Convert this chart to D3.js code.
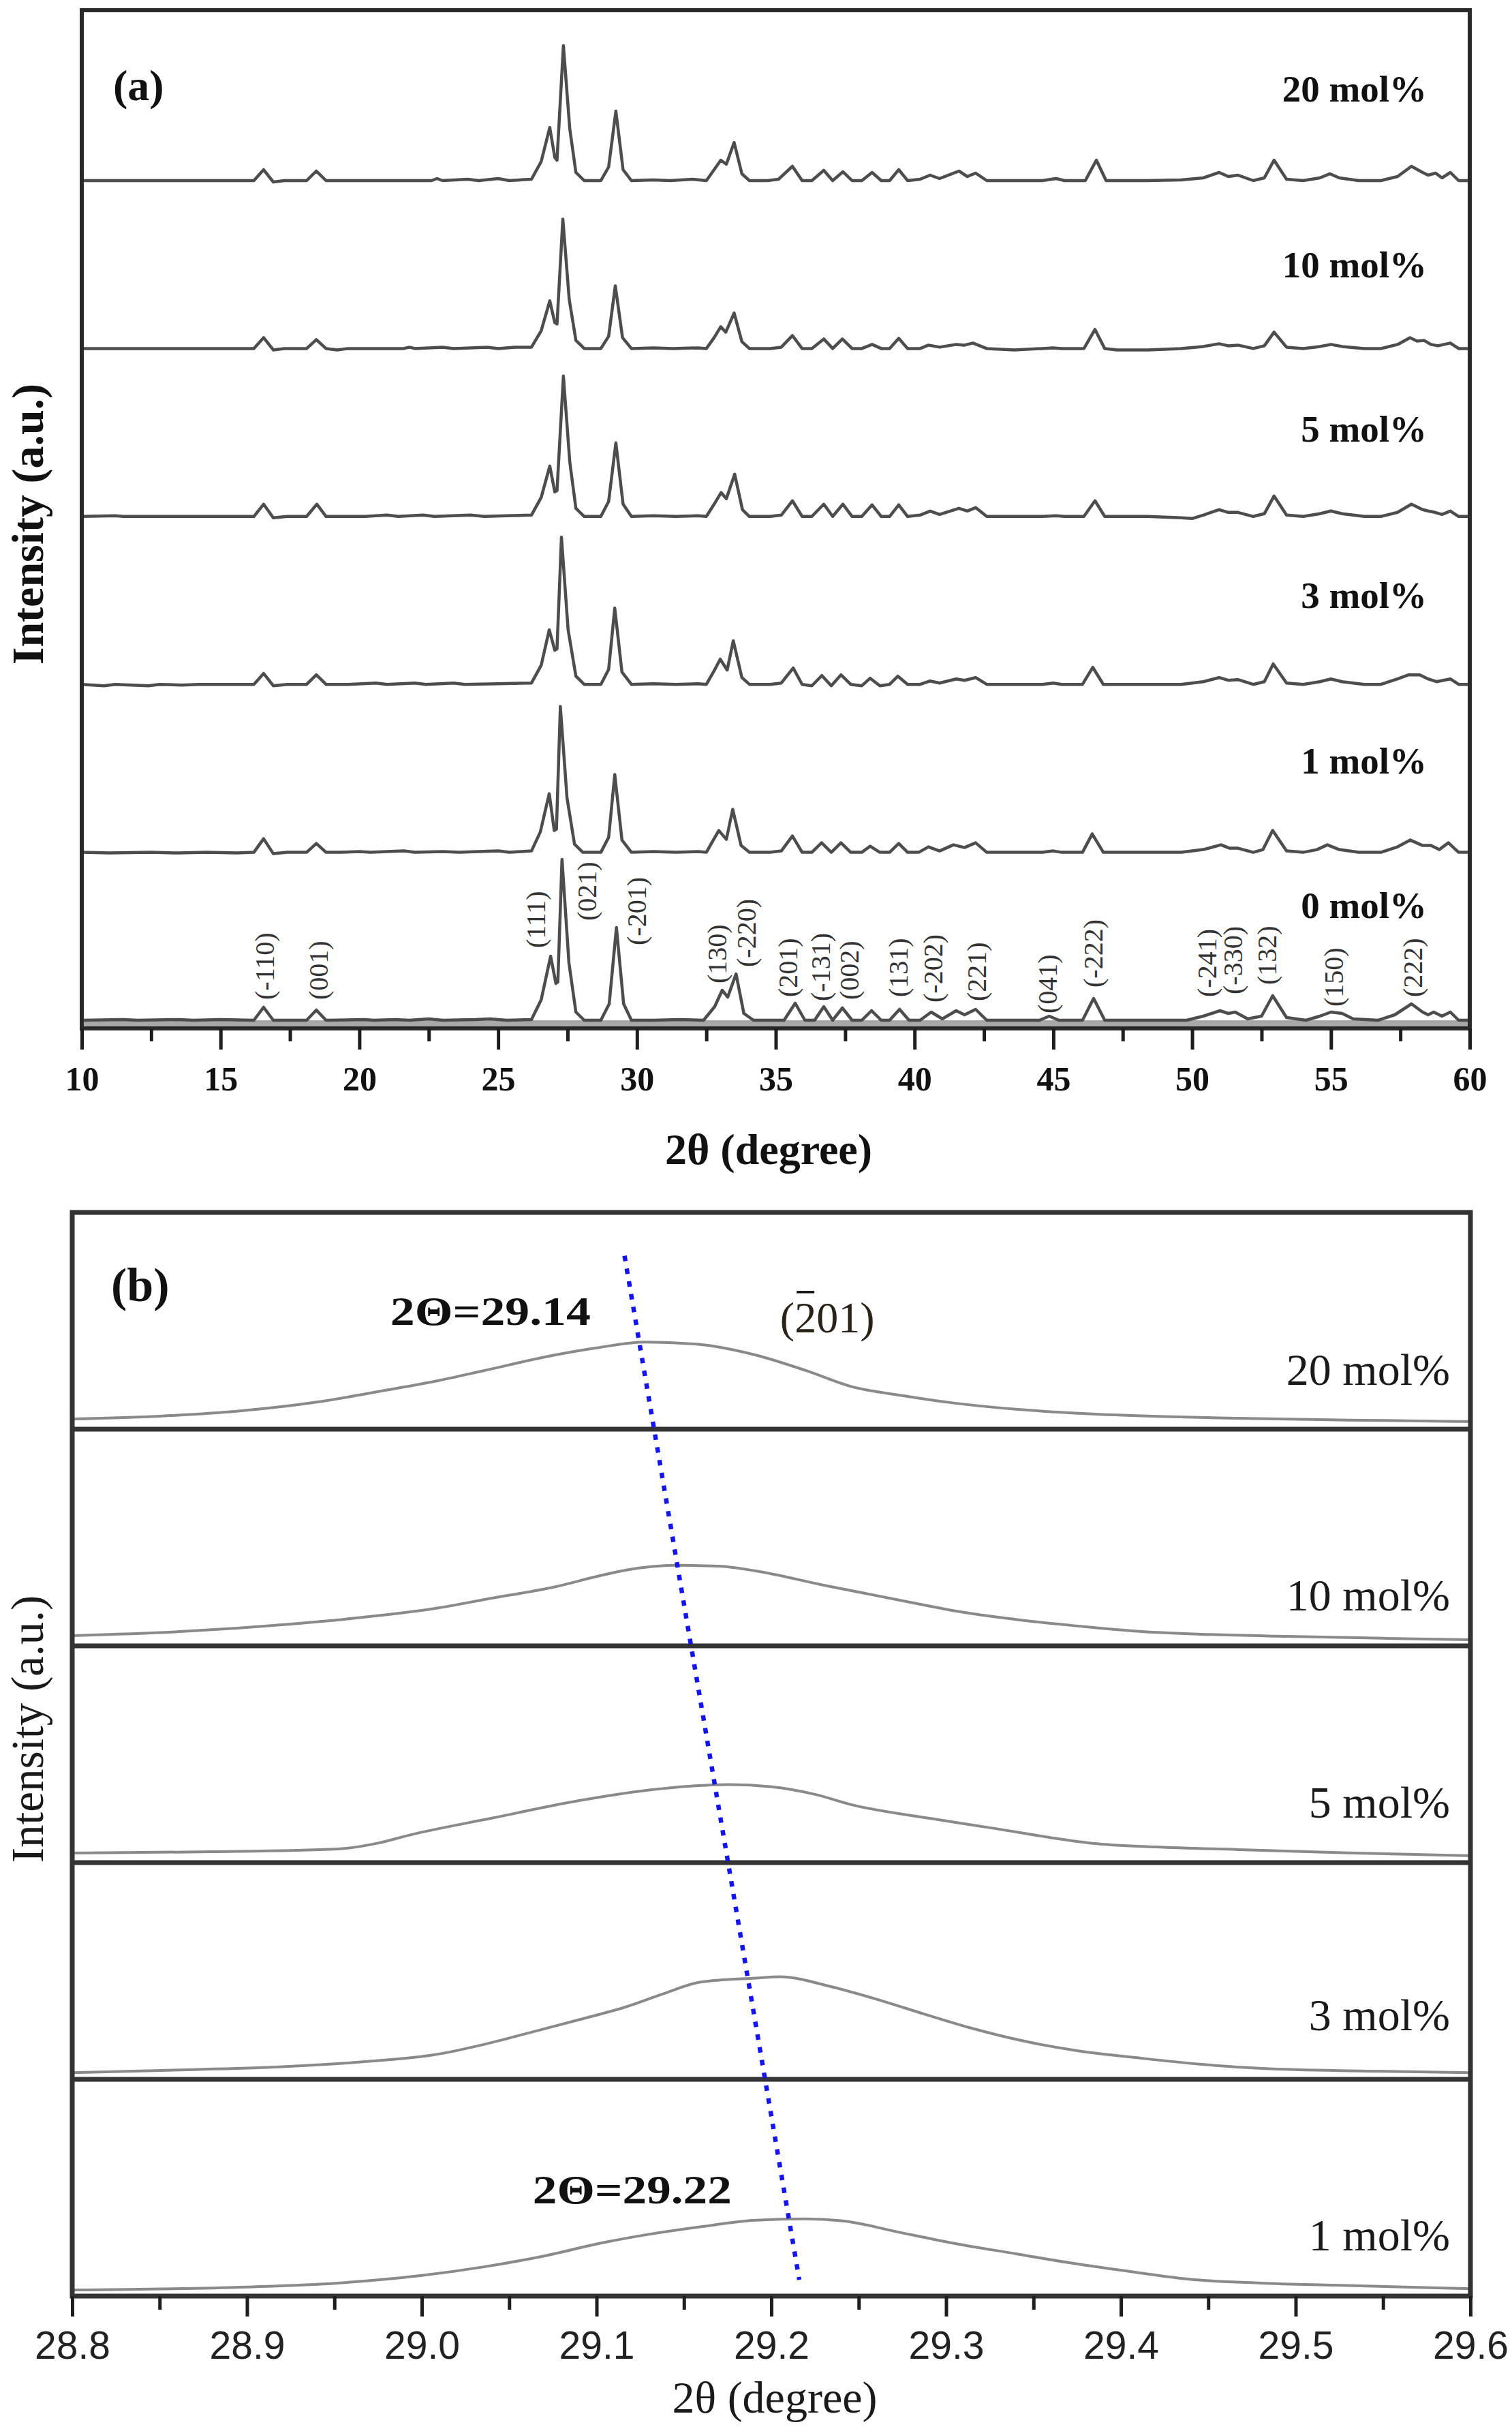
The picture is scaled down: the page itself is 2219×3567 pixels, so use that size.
<!DOCTYPE html>
<html>
<head>
<meta charset="utf-8">
<script src="https://cdn.jsdelivr.net/npm/d3@7"></script>
<style>
  body { margin: 0; background: #fff; }
</style>
</head>
<body>
<div id="chart"></div>
<script>
// ---- panel (a): full XRD patterns, [2θ (deg), intensity (a.u.)] ----
const xrd0 = [[10,0],[11.5,0.5],[12,0],[13.5,0.5],[14,0],[15,0.5],[16.2,0],[16.55,9.5],[16.9,0],[18.1,0],[18.45,7.5],[18.8,0],[20.2,0.5],[20.5,0],[21.3,0.5],[21.8,0],[22.5,1],[23,0],[24.2,0.5],[24.7,1],[25.3,0],[26.2,0.5],[26.55,15],[26.89,47],[27.08,27],[27.15,28],[27.3,118],[27.55,42],[27.8,6],[28.1,0],[28.7,0],[29.0,12],[29.26,68],[29.52,12],[29.8,0],[30.6,0],[31.5,0.5],[32.4,0],[32.8,10],[33.07,22],[33.27,17],[33.57,34],[33.85,5],[34.2,0],[35.3,0],[35.7,12.5],[36.05,0],[36.4,0],[36.73,10],[37.05,0],[37.4,9],[37.75,0],[38.1,0],[38.45,7],[38.8,0],[39.1,0],[39.46,8],[39.8,0],[40.2,0],[40.6,6],[41.0,1],[41.5,7],[41.8,4],[42.2,8],[42.6,0],[44.5,0],[44.85,3],[45.2,0],[46.05,0],[46.45,16],[46.85,0],[48.2,0],[49.8,0],[50.4,3],[51.0,7],[51.3,5],[51.55,6],[52.0,1],[52.5,3],[52.9,18],[53.4,2],[54.1,0],[54.6,3],[55.0,6],[55.4,5],[55.8,1],[56.7,0],[57.3,4],[57.9,12],[58.3,6],[58.5,4],[58.7,6],[59.0,3],[59.3,6],[59.6,0],[60,0]];

const xrd1 = [[10,0],[11.0,-0.5],[12.5,0],[13.5,-0.5],[14.5,0],[15.6,-0.5],[16.2,0],[16.55,10],[16.9,-1],[17.4,0],[18.1,0],[18.45,6.5],[18.8,0],[19.3,0],[20.0,0.5],[20.4,0],[21.6,1],[22.0,0],[23.0,0.5],[23.6,0],[25.0,1],[25.4,0],[26.2,1],[26.52,15],[26.84,43],[27.02,16],[27.1,17],[27.24,107],[27.48,40],[27.75,6],[28.05,0],[28.7,0],[28.98,11],[29.2,57],[29.46,9],[29.8,0],[30.6,0.5],[31.4,0],[32.2,0.5],[32.5,0],[32.75,9],[32.95,16],[33.22,9.5],[33.45,31.5],[33.75,5],[34.05,0],[34.8,0],[35.2,1],[35.6,12],[35.95,0],[36.3,0],[36.65,7],[37.0,0],[37.35,7],[37.7,0],[38.1,0],[38.4,4.5],[38.75,0],[39.1,0],[39.43,6.5],[39.75,0],[40.15,0],[40.5,4],[40.9,1],[41.4,5.5],[41.8,3.5],[42.2,7],[42.6,0],[43.6,0],[44.6,0],[45.0,1],[45.3,0],[46.05,0],[46.4,13.5],[46.8,0],[48.4,0],[49.6,0],[50.4,2],[51.04,5.5],[51.35,3],[51.65,3],[52.2,0],[52.55,2],[52.9,16],[53.4,1],[54.0,0],[54.5,2],[54.87,5.5],[55.3,2],[56.0,0],[56.8,0],[57.4,4],[57.86,9],[58.3,5],[58.6,5],[58.9,2],[59.23,7],[59.6,0],[60,0]];

const xrd3 = [[10,0],[10.8,-1],[11.2,0],[12.4,-1],[12.8,0],[13.6,-0.5],[14.2,0],[16.2,0],[16.55,8],[16.9,-1],[17.4,0],[18.1,0],[18.45,7],[18.8,0],[19.6,0],[20.6,1],[21.0,0],[22.0,1],[22.4,0],[23.4,1],[23.8,0],[25.0,0.5],[26.2,1],[26.55,14],[26.84,40],[27.04,25],[27.12,26],[27.28,108],[27.52,40],[27.8,6],[28.1,0],[28.7,0],[28.98,11],[29.2,56],[29.46,9],[29.8,0],[30.6,0.5],[31.4,0],[32.2,0.5],[32.5,0],[32.78,10],[33.0,18.5],[33.25,10.5],[33.47,32],[33.78,5],[34.05,0],[34.8,0],[35.2,1],[35.63,12],[35.95,0],[36.3,-1],[36.66,6.5],[37.0,-1],[37.35,7],[37.7,0],[38.1,-1],[38.4,4.5],[38.75,-1],[39.1,0],[39.4,6],[39.75,0],[40.2,0],[40.56,2.5],[40.9,1],[41.5,4],[41.8,3],[42.2,5],[42.6,0],[43.6,0],[44.6,0],[45.0,1],[45.3,0],[46.05,0],[46.42,12.5],[46.8,0],[48.4,0],[49.6,0],[50.4,2],[50.97,5],[51.3,3],[51.65,3.5],[52.2,0],[52.6,2],[52.92,15],[53.4,1],[54.0,0],[54.6,2],[55.0,4],[55.4,2],[56.2,0],[56.8,0],[57.4,4],[57.8,7],[58.2,7],[58.5,4],[58.8,2],[59.3,4],[59.6,0],[60,0]];

const xrd5 = [[10,0],[11.2,0.5],[11.5,0],[13.8,0],[16.2,0],[16.55,9],[16.9,-1],[17.4,0],[18.1,0],[18.47,9],[18.8,0],[19.4,0],[20.2,0],[21.0,1],[21.4,0],[22.3,1],[22.7,0],[24.0,1],[24.5,0],[25.3,0.5],[26.2,1],[26.55,14],[26.86,37],[27.04,18],[27.12,19],[27.35,103],[27.58,40],[27.8,6],[28.1,0],[28.7,0],[28.98,11],[29.24,54],[29.5,9],[29.8,0],[30.6,0.5],[31.4,0],[32.2,0.5],[32.5,0],[32.78,9],[33.03,17.5],[33.22,13],[33.52,31],[33.8,5],[34.05,0],[34.8,0],[35.2,1],[35.6,11.5],[35.95,0],[36.3,0],[36.73,9],[37.05,0],[37.42,9],[37.75,0],[38.1,0],[38.47,8.5],[38.8,0],[39.1,0],[39.43,8.5],[39.75,0],[40.2,1],[40.56,4],[40.9,1.5],[41.6,6],[41.9,4],[42.2,6.5],[42.6,0],[43.6,0],[44.6,0],[45.1,0.5],[45.4,0],[46.1,0],[46.5,11.5],[46.85,0],[48.4,0],[49.6,-1],[50.0,-1.5],[50.4,1],[50.97,5],[51.3,3],[51.65,3],[52.2,0],[52.6,2],[52.95,15],[53.4,1],[54.0,0],[54.6,2],[55.0,4],[55.4,2],[56.2,0],[56.8,0],[57.4,3],[57.9,9],[58.3,5],[58.5,4],[58.75,3],[59.0,1.5],[59.3,4],[59.6,0],[60,0]];

const xrd10 = [[10,0],[13,0],[16.2,0],[16.55,8],[16.9,-1],[17.3,0],[18.1,0],[18.45,6.5],[18.8,0],[19.2,-1],[19.6,0],[21.6,0],[21.8,1],[22.0,0],[23.0,1],[23.4,0],[24.6,1],[25.0,0],[25.6,1],[26.2,1],[26.55,13],[26.86,35],[27.04,19],[27.12,18],[27.33,95],[27.56,36],[27.8,6],[28.1,0],[28.7,0],[28.98,9],[29.22,46],[29.48,8],[29.8,0],[30.6,0.5],[31.3,0],[32.2,0.5],[32.5,0],[32.78,8],[33.02,16],[33.2,12],[33.5,26],[33.78,5],[34.05,0],[34.8,0],[35.2,1],[35.6,9.5],[35.95,0],[36.3,0],[36.73,7],[37.05,0],[37.4,7],[37.75,0],[38.1,0],[38.47,3],[38.8,0],[39.1,0],[39.43,7.5],[39.75,0],[40.2,0],[40.5,2.5],[40.9,1],[41.5,3],[41.8,2.5],[42.1,4],[42.6,0],[43.6,-1],[44.6,0],[45.0,0.5],[45.3,0],[46.1,0],[46.5,14],[46.85,0],[47.3,-1],[48.4,-1],[49.6,0],[50.4,1.5],[50.97,3.5],[51.3,2],[51.65,2.5],[52.2,0],[52.6,2],[52.95,12],[53.4,1],[54.0,0],[54.6,1.5],[55.0,3],[55.4,1.5],[56.2,0],[56.8,0],[57.4,3],[57.85,8],[58.1,5.5],[58.35,6],[58.6,3],[58.85,2],[59.3,4],[59.6,0],[60,0]];

const xrd20 = [[10,0],[13,0],[16.2,0],[16.55,8],[16.9,-1],[17.3,0],[18.1,0],[18.45,7],[18.8,0],[22.6,0],[22.8,1.5],[23.0,0],[23.9,1],[24.3,0],[25.0,1.5],[25.4,0],[26.2,1],[26.55,14],[26.86,39],[27.04,17],[27.12,15],[27.35,99],[27.58,38],[27.8,6],[28.1,0],[28.7,0],[28.98,10],[29.24,51],[29.5,8],[29.8,0],[30.6,0.5],[31.2,0],[32.0,1],[32.5,0],[32.78,8],[33.02,15],[33.22,12],[33.5,28],[33.78,5],[34.05,0],[34.7,0],[35.1,1],[35.6,10.5],[35.95,0],[36.3,0],[36.73,7.5],[37.05,0],[37.42,6.5],[37.75,0],[38.1,0],[38.47,6],[38.8,0],[39.1,0],[39.43,8],[39.75,0],[40.2,1],[40.56,4],[40.9,1.5],[41.6,7],[41.9,3],[42.2,5.5],[42.6,0],[43.6,0],[44.6,0],[45.1,1.5],[45.4,0],[46.15,0],[46.55,15],[46.9,0],[48.4,0],[49.6,0.5],[50.4,2],[50.97,6],[51.3,3],[51.65,4],[52.2,0],[52.6,2],[52.95,15],[53.4,1],[54.0,0],[54.6,2],[54.96,5],[55.3,2],[56.0,0],[56.8,0],[57.4,3],[57.9,10.5],[58.3,6],[58.5,4],[58.77,5.5],[59.0,2],[59.3,6],[59.6,0],[60,0]];

const seriesA = [xrd0, xrd1, xrd3, xrd5, xrd10, xrd20];
const labelsA = ['0 mol%', '1 mol%', '3 mol%', '5 mol%', '10 mol%', '20 mol%'];

// Miller indices marked on the 0 mol% pattern
const hklText = ['(-110)','(001)','(111)','(021)','(-201)','(130)','(-220)','(201)','(-131)','(002)','(131)','(-202)','(221)','(041)','(-222)','(-241)','(-330)','(132)','(150)','(222)'];
const hklPos  = [16.58, 18.52, 26.35, 28.2, 30.0, 32.9, 33.95, 35.43, 36.63, 37.64, 39.43, 40.68, 42.25, 44.8, 46.45, 50.53, 51.48, 52.7, 55.1, 57.96];
const hklBase = [15, 15, 53, 73, 55, 27, 39, 17, 14, 15, 17, 13, 14, 5, 24, 17, 19, 26, 10, 17];

const ticksA = [10, 15, 20, 25, 30, 35, 40, 45, 50, 55, 60];
const minorA = [12.5, 17.5, 22.5, 27.5, 32.5, 37.5, 42.5, 47.5, 52.5, 57.5];

// ---- panel (b): (-201) reflection, intensity as % of each strip ----
const b1  = [[28.8,2.8],[28.9,4.2],[28.952,6],[29.0,9.5],[29.035,13.4],[29.07,18.5],[29.104,24.7],[29.13,28.5],[29.159,31.9],[29.191,35],[29.219,35.6],[29.241,34.7],[29.27,30],[29.302,24.7],[29.34,19.5],[29.371,15.3],[29.41,10.8],[29.439,7.8],[29.48,6],[29.522,5],[29.6,3.4]];
const b3  = [[28.8,3.1],[28.87,4.5],[28.924,6],[28.97,8.3],[29.007,11.3],[29.035,16],[29.062,21.6],[29.09,27.5],[29.117,33.5],[29.14,40],[29.159,44.8],[29.191,46.7],[29.205,47.3],[29.233,43],[29.26,37],[29.288,30],[29.315,23.5],[29.343,17.9],[29.375,13.2],[29.412,9.7],[29.445,7],[29.481,5],[29.54,3.8],[29.6,3.1]];
const b5  = [[28.8,4.4],[28.88,5],[28.952,6.3],[28.975,9],[28.993,12.7],[29.04,20.5],[29.09,28.6],[29.13,33.5],[29.176,36],[29.2,35],[29.225,31.5],[29.246,26.7],[29.29,20.5],[29.329,15.6],[29.36,11.5],[29.384,8.9],[29.42,7.2],[29.467,6],[29.53,4.5],[29.6,3.2]];
const b10 = [[28.8,4.7],[28.86,6.5],[28.924,10],[28.97,13.5],[29.007,17.2],[29.04,22],[29.076,27.2],[29.1,32],[29.117,35],[29.145,37.2],[29.17,36.8],[29.191,34.6],[29.23,28],[29.274,21],[29.31,15.5],[29.343,11.9],[29.38,8.8],[29.412,6.6],[29.45,5.3],[29.495,4.4],[29.55,3.5],[29.6,2.8]];
const b20 = [[28.8,4.7],[28.85,6],[28.897,8.5],[28.94,12.5],[28.979,17.9],[29.01,22.5],[29.035,26.9],[29.076,34.2],[29.1,37.5],[29.128,40.2],[29.16,39],[29.191,34.2],[29.22,27],[29.246,19.6],[29.275,15.5],[29.302,12.3],[29.34,9.2],[29.384,7],[29.425,5.8],[29.467,5],[29.53,4.2],[29.6,3.5]];

const seriesB = [b1, b3, b5, b10, b20];
const labelsB = ['1 mol%', '3 mol%', '5 mol%', '10 mol%', '20 mol%'];

// dotted guide through the peak maxima, [2θ, strip units]
const shiftLine = [[29.116, 4.8], [29.216, 0.075]];

const ticksB = [28.8, 28.9, 29.0, 29.1, 29.2, 29.3, 29.4, 29.5, 29.6];
const minorB = [28.85, 28.95, 29.05, 29.15, 29.25, 29.35, 29.45, 29.55];

// ------------------------------------------------------------------
const serif = '"Liberation Serif", "Times New Roman", serif';
const sans = '"Liberation Sans", Arial, sans-serif';

const svg = d3.select('#chart')
    .append('svg')
    .attr('width', 2219)
    .attr('height', 3567)
    .style('background', '#fff');

function bottomTicks(g, scale, major, minor, majorLen, minorLen, fmt, labelY) {
    g.call(d3.axisBottom(scale).tickValues(major).tickSize(majorLen).tickFormat(fmt));
    g.select('.domain').remove();
    g.selectAll('.tick line').attr('stroke', '#1e1e1e').attr('stroke-width', 5);
    g.selectAll('.tick text').attr('y', labelY).attr('dy', null);
    const m = g.append('g').call(d3.axisBottom(scale).tickValues(minor).tickSize(minorLen).tickFormat(''));
    m.select('.domain').remove();
    m.selectAll('.tick line').attr('stroke', '#1e1e1e').attr('stroke-width', 5);
    return g;
}

// ================= panel (a) =================
const xA = d3.scaleLinear().domain([10, 60]).range([120, 2157]);
const yA = d3.scaleLinear().domain([0, 100]).range([1497, 1297]);
const STEP = 123.2;
const axisYA = 1509;

// grey band under the lowest trace
svg.append('rect')
    .attr('x', xA(10)).attr('y', yA(0))
    .attr('width', xA(60) - xA(10)).attr('height', axisYA - yA(0))
    .attr('fill', '#a8a8a8');

const lineA = d3.line();
seriesA.forEach((s, k) => {
    svg.append('path')
        .datum(s)
        .attr('fill', 'none')
        .attr('stroke', '#4d4d4d')
        .attr('stroke-width', 4.5)
        .attr('stroke-linejoin', 'round')
        .attr('d', lineA.x(d => xA(d[0])).y(d => yA(d[1] + k * STEP)));
});

svg.append('rect')
    .attr('x', xA(10)).attr('y', 15)
    .attr('width', xA(60) - xA(10)).attr('height', axisYA - 15)
    .attr('fill', 'none').attr('stroke', '#2a2a2a').attr('stroke-width', 6);

const axA = bottomTicks(svg.append('g').attr('transform', `translate(0,${axisYA})`),
    xA, ticksA, minorA, 31, 19, d3.format('d'), 91);
axA.selectAll('.tick text')
    .attr('font-family', serif).attr('font-weight', 'bold')
    .attr('font-size', 50).attr('fill', '#111');

// sample labels
const liftA = [75, 58, 56, 55, 52, 58];
labelsA.forEach((t, k) => {
    svg.append('text')
        .attr('x', 2094)
        .attr('y', yA(k * STEP + liftA[k]))
        .attr('text-anchor', 'end')
        .attr('font-family', serif).attr('font-weight', 'bold')
        .attr('font-size', 55).attr('fill', '#111')
        .text(t);
});

// Miller indices
svg.selectAll('.hkl')
    .data(hklText)
    .join('text')
    .attr('class', 'hkl')
    .attr('transform', (d, i) => `translate(${xA(hklPos[i])},${yA(hklBase[i])}) rotate(-90)`)
    .attr('dominant-baseline', 'central')
    .attr('font-family', serif).attr('font-size', 40).attr('fill', '#333')
    .text(d => d);

svg.append('text')
    .attr('x', 166).attr('y', 147)
    .attr('font-family', serif).attr('font-weight', 'bold')
    .attr('font-size', 64).attr('fill', '#111')
    .text('(a)');

svg.append('text')
    .attr('x', 1128).attr('y', 1708)
    .attr('text-anchor', 'middle')
    .attr('font-family', serif).attr('font-weight', 'bold')
    .attr('font-size', 64).attr('fill', '#111')
    .text('2θ (degree)');

svg.append('text')
    .attr('transform', 'translate(63,769) rotate(-90)')
    .attr('text-anchor', 'middle')
    .attr('font-family', serif).attr('font-weight', 'bold')
    .attr('font-size', 66).attr('fill', '#111')
    .text('Intensity (a.u.)');

// ================= panel (b) =================
const xB = d3.scaleLinear().domain([28.8, 29.6]).range([106, 2158]);
const yB = d3.scaleLinear().domain([0, 5]).range([3369, 1779]);

const lineB = d3.line().curve(d3.curveMonotoneX);
seriesB.forEach((s, i) => {
    svg.append('path')
        .datum(s)
        .attr('fill', 'none')
        .attr('stroke', '#8a8a8a')
        .attr('stroke-width', 4)
        .attr('d', lineB.x(d => xB(d[0])).y(d => yB(i + d[1] / 100)));
});

svg.append('rect')
    .attr('x', xB(28.8)).attr('y', yB(5))
    .attr('width', xB(29.6) - xB(28.8)).attr('height', yB(0) - yB(5))
    .attr('fill', 'none').attr('stroke', '#333').attr('stroke-width', 7);

svg.selectAll('.divider')
    .data([1, 2, 3, 4])
    .join('line')
    .attr('class', 'divider')
    .attr('x1', xB(28.8)).attr('x2', xB(29.6))
    .attr('y1', d => yB(d)).attr('y2', d => yB(d))
    .attr('stroke', '#333').attr('stroke-width', 7);

svg.append('line')
    .attr('x1', xB(shiftLine[0][0])).attr('y1', yB(shiftLine[0][1]))
    .attr('x2', xB(shiftLine[1][0])).attr('y2', yB(shiftLine[1][1]))
    .attr('stroke', '#1414f0').attr('stroke-width', 6.5)
    .attr('stroke-dasharray', '8 11');

const axB = bottomTicks(svg.append('g').attr('transform', `translate(0,${yB(0)})`),
    xB, ticksB, minorB, 30, 20, d3.format('.1f'), 92);
axB.selectAll('.tick text')
    .attr('font-family', sans).attr('font-size', 57).attr('fill', '#222');

const liftB = [67, 72, 66, 52, 65];
labelsB.forEach((t, i) => {
    svg.append('text')
        .attr('x', 2128)
        .attr('y', yB(i) - liftB[i])
        .attr('text-anchor', 'end')
        .attr('font-family', serif).attr('font-size', 66).attr('fill', '#1a1a1a')
        .text(t);
});

svg.append('text')
    .attr('x', 163).attr('y', 1909)
    .attr('font-family', serif).attr('font-weight', 'bold')
    .attr('font-size', 70).attr('fill', '#111')
    .text('(b)');

svg.append('text')
    .attr('x', xB(28.982)).attr('y', yB(4.481))
    .attr('font-family', serif).attr('font-weight', 'bold')
    .attr('font-size', 60).attr('fill', '#111')
    .attr('textLength', 294).attr('lengthAdjust', 'spacingAndGlyphs')
    .text('2Θ=29.14');

svg.append('text')
    .attr('x', xB(29.0635)).attr('y', yB(0.428))
    .attr('font-family', serif).attr('font-weight', 'bold')
    .attr('font-size', 60).attr('fill', '#111')
    .attr('textLength', 292).attr('lengthAdjust', 'spacingAndGlyphs')
    .text('2Θ=29.22');

// (-201) with an overbar on the 2
const hkl = svg.append('text')
    .attr('x', xB(29.205)).attr('y', yB(4.447))
    .attr('font-family', serif).attr('font-size', 64).attr('fill', '#2a2218')
    .text('(201)');
const c2 = hkl.node().getExtentOfChar(1);
svg.append('line')
    .attr('x1', c2.x + 3).attr('x2', c2.x + c2.width - 3)
    .attr('y1', c2.y - 2).attr('y2', c2.y - 2)
    .attr('stroke', '#111').attr('stroke-width', 3.5);

svg.append('text')
    .attr('x', 1137).attr('y', 3540)
    .attr('text-anchor', 'middle')
    .attr('font-family', serif).attr('font-size', 66).attr('fill', '#1a1a1a')
    .text('2θ (degree)');

svg.append('text')
    .attr('transform', 'translate(63,2537) rotate(-90)')
    .attr('text-anchor', 'middle')
    .attr('font-family', serif).attr('font-size', 67).attr('fill', '#1a1a1a')
    .text('Intensity (a.u.)');
</script>
</body>
</html>
